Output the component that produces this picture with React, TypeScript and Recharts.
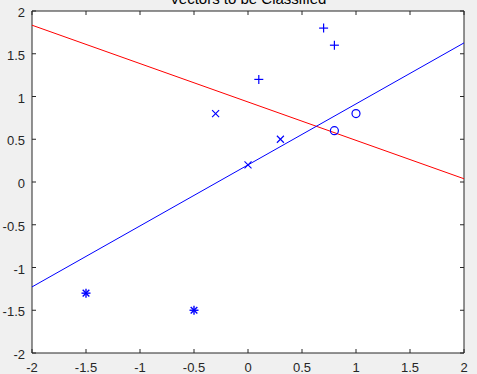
import React from 'react';
import { ComposedChart, XAxis, YAxis, Scatter, ReferenceLine, ReferenceArea, CartesianGrid } from 'recharts';

const W = 477;
const H = 374;
const TITLE = 'Vectors to be Classified';

const xTicks = [-2, -1.5, -1, -0.5, 0, 0.5, 1, 1.5, 2];
const xTickLabels = ['-2', '-1.5', '-1', '-0.5', '0', '0.5', '1', '1.5', '2'];
const yTicks = [-2, -1.5, -1, -0.5, 0, 0.5, 1, 1.5, 2];
const yTickLabels = ['-2', '-1.5', '-1', '-0.5', '0', '0.5', '1', '1.5', '2'];

const plusPoints = [
  { x: 0.7, y: 1.8 },
  { x: 0.8, y: 1.6 },
  { x: 0.1, y: 1.2 },
];
const crossPoints = [
  { x: -0.3, y: 0.8 },
  { x: 0.3, y: 0.5 },
  { x: 0, y: 0.2 },
];
const circlePoints = [
  { x: 1, y: 0.8 },
  { x: 0.8, y: 0.6 },
];
const starPoints = [
  { x: -1.5, y: -1.3 },
  { x: -0.5, y: -1.5 },
];

const redLine = [
  { x: -2, y: 1.834 },
  { x: 2, y: 0.038 },
];
const blueLine = [
  { x: -2, y: -1.227 },
  { x: 2, y: 1.627 },
];

const MARGIN = { top: 11, right: 13, bottom: 0, left: 0 };
const YAXIS_W = 32;
const XAXIS_H = 21;
const PL = MARGIN.left + YAXIS_W;
const PR = W - MARGIN.right;
const PT = MARGIN.top;
const PB = H - MARGIN.bottom - XAXIS_H;
const AX = '#262626';
const FONT = '"Liberation Sans", Arial, sans-serif';
const BLUE = '#0000ff';

const XTick = (props: any) => {
  const { x, payload } = props;
  return (
    <g>
      <line x1={x} x2={x} y1={PB} y2={PB - 4} stroke={AX} strokeWidth={1} />
      <line x1={x} x2={x} y1={PT} y2={PT + 4} stroke={AX} strokeWidth={1} />
      <text x={x} y={PB + 19} textAnchor="middle" fill={AX} fontSize={13} fontFamily={FONT}>
        {xTickLabels[xTicks.indexOf(payload.value)] ?? String(payload.value)}
      </text>
    </g>
  );
};

const YTick = (props: any) => {
  const { y, payload } = props;
  return (
    <g>
      <line x1={PL} x2={PL + 4} y1={y} y2={y} stroke={AX} strokeWidth={1} />
      <line x1={PR} x2={PR - 4} y1={y} y2={y} stroke={AX} strokeWidth={1} />
      <text x={PL - 7} y={y + 6} textAnchor="end" fill={AX} fontSize={13} fontFamily={FONT}>
        {yTickLabels[yTicks.indexOf(payload.value)] ?? String(payload.value)}
      </text>
    </g>
  );
};

const PlusShape = (p: any) => (
  <g stroke={BLUE} strokeWidth={1.2} fill="none">
    <line x1={p.cx - 4.5} x2={p.cx + 4.5} y1={p.cy} y2={p.cy} />
    <line x1={p.cx} x2={p.cx} y1={p.cy - 4.5} y2={p.cy + 4.5} />
  </g>
);
const CrossShape = (p: any) => (
  <g stroke={BLUE} strokeWidth={1.1} fill="none">
    <line x1={p.cx - 3.5} x2={p.cx + 3.5} y1={p.cy - 3.5} y2={p.cy + 3.5} />
    <line x1={p.cx - 3.5} x2={p.cx + 3.5} y1={p.cy + 3.5} y2={p.cy - 3.5} />
  </g>
);
const CircleShape = (p: any) => (
  <circle cx={p.cx} cy={p.cy} r={4} stroke={BLUE} strokeWidth={1.2} fill="none" />
);
const StarShape = (p: any) => (
  <g stroke={BLUE} strokeWidth={1.4} fill="none">
    <line x1={p.cx - 4.5} x2={p.cx + 4.5} y1={p.cy} y2={p.cy} />
    <line x1={p.cx} x2={p.cx} y1={p.cy - 4.5} y2={p.cy + 4.5} />
    <line x1={p.cx - 3.3} x2={p.cx + 3.3} y1={p.cy - 3.3} y2={p.cy + 3.3} />
    <line x1={p.cx - 3.3} x2={p.cx + 3.3} y1={p.cy + 3.3} y2={p.cy - 3.3} />
  </g>
);

export default function App() {
  return (
    <div style={{ position: 'absolute', left: 0, top: 0, width: W, height: H, background: '#f0f0f0', overflow: 'hidden' }}>
      <ComposedChart width={W} height={H} margin={MARGIN}>
        <CartesianGrid horizontal={false} vertical={false} fill="#ffffff" fillOpacity={1} stroke="none" />
        <XAxis
          type="number"
          dataKey="x"
          domain={[-2, 2]}
          ticks={xTicks}
          height={XAXIS_H}
          axisLine={false}
          tickLine={false}
          tick={<XTick />}
          interval={0}
          allowDataOverflow
        />
        <YAxis
          type="number"
          dataKey="y"
          domain={[-2, 2]}
          ticks={yTicks}
          width={YAXIS_W}
          axisLine={false}
          tickLine={false}
          tick={<YTick />}
          interval={0}
          allowDataOverflow
        />
        <ReferenceArea x1={-2} x2={2} y1={-2} y2={2} fill="none" fillOpacity={0} stroke={AX} strokeWidth={1} ifOverflow="visible" />
        <ReferenceLine segment={redLine} stroke="#ff0000" strokeWidth={1} ifOverflow="visible" />
        <ReferenceLine segment={blueLine} stroke={BLUE} strokeWidth={1} ifOverflow="visible" />
        <Scatter data={plusPoints} shape={<PlusShape />} isAnimationActive={false} />
        <Scatter data={crossPoints} shape={<CrossShape />} isAnimationActive={false} />
        <Scatter data={circlePoints} shape={<CircleShape />} isAnimationActive={false} />
        <Scatter data={starPoints} shape={<StarShape />} isAnimationActive={false} />
      </ComposedChart>
      <svg width={W} height={20} style={{ position: 'absolute', left: 0, top: 0, pointerEvents: 'none' }}>
        <text x={(PL + PR) / 2} y={4} textAnchor="middle" fill="#000" fontSize={15} fontFamily={FONT}>
          {TITLE}
        </text>
      </svg>
    </div>
  );
}
